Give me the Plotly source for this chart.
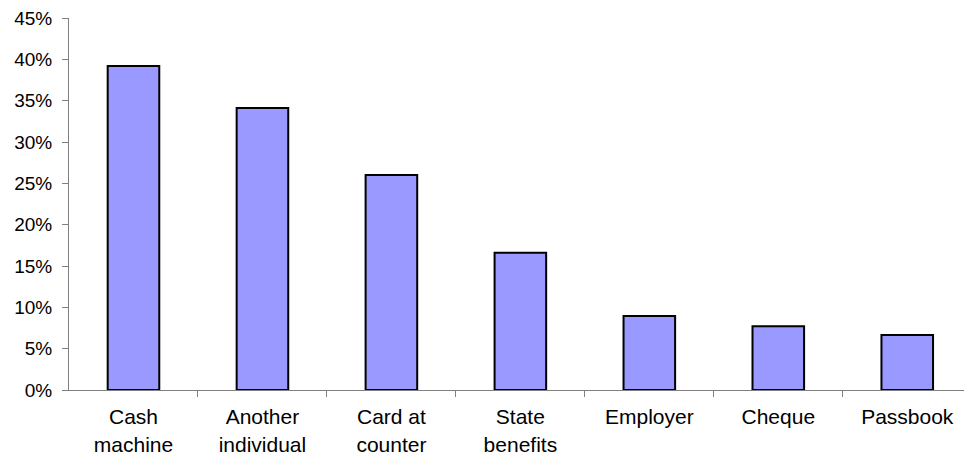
import plotly.graph_objects as go

categories = ["Cash<br>machine", "Another<br>individual", "Card at<br>counter", "State<br>benefits",
              "Employer", "Cheque", "Passbook"]
values = [39.2, 34.1, 26.0, 16.6, 8.95, 7.7, 6.65]
y_ticks = [0, 5, 10, 15, 20, 25, 30, 35, 40, 45]
y_ticklabels = [f"{v}%" for v in y_ticks]

fig = go.Figure(go.Bar(
    x=list(range(len(categories))),
    y=values,
    marker=dict(color="#9999FF", line=dict(color="#000000", width=2)),
    width=0.4,
))

xfont = dict(family="Liberation Sans, Arial, sans-serif", size=21, color="#000000")
yfont = dict(family="Liberation Sans, Arial, sans-serif", size=19, color="#000000")

fig.update_layout(
    width=964, height=459,
    margin=dict(l=69, r=0, t=18, b=69),
    paper_bgcolor="white", plot_bgcolor="white",
    showlegend=False,
    font=yfont,
    bargap=0.6,
)
fig.update_xaxes(
    tickmode="array", tickvals=list(range(len(categories))), ticktext=categories,
    range=[-0.5, 6.44], showgrid=False, zeroline=False,
    showline=True, linecolor="#808080", linewidth=1,
    ticks="", tickfont=xfont, ticklabelstandoff=8,
)
fig.update_xaxes(minor=dict(tickmode="array", tickvals=[0.5, 1.5, 2.5, 3.5, 4.5, 5.5],
                            ticks="outside", ticklen=6, tickcolor="#808080", tickwidth=1, showgrid=False))
fig.update_yaxes(
    range=[0, 45], tickmode="array", tickvals=y_ticks, ticktext=y_ticklabels,
    showgrid=False, zeroline=False, showline=True, linecolor="#808080", linewidth=1,
    ticks="outside", ticklen=6, tickcolor="#808080", tickfont=yfont, ticklabelstandoff=6,
)

fig.write_html("out.html")
